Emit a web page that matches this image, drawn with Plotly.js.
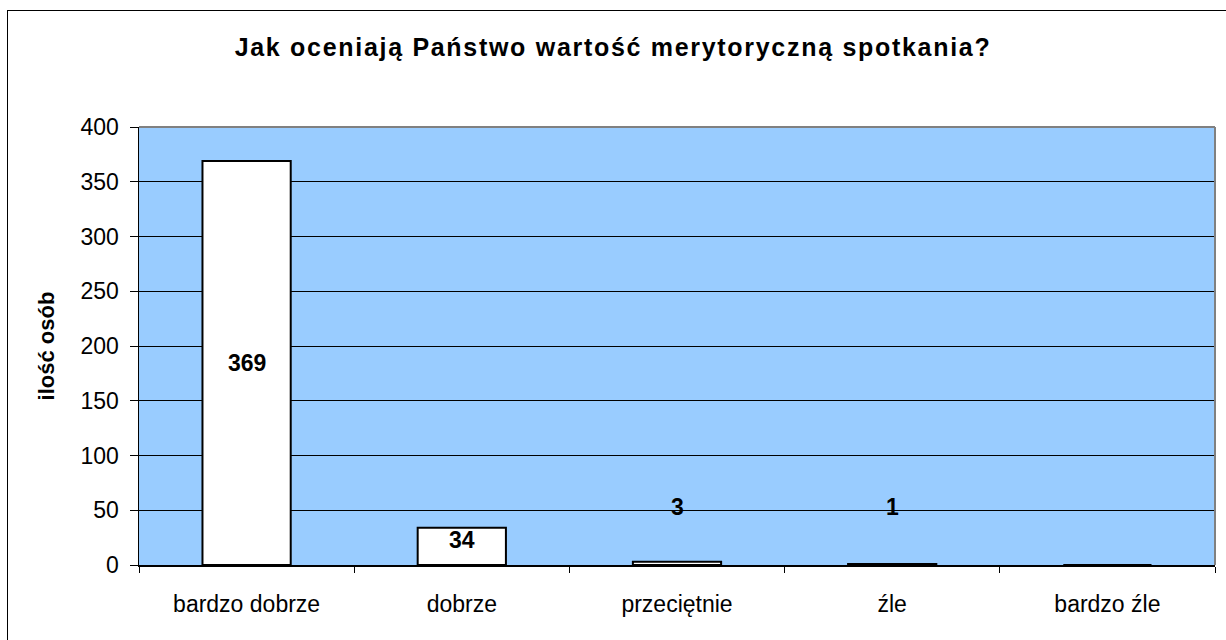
<!DOCTYPE html>
<html>
<head>
<meta charset="utf-8">
<script src="https://cdn.plot.ly/plotly-3.0.1.min.js"></script>
<style>
  html, body { margin: 0; padding: 0; background: #ffffff; overflow: hidden; }
  #frame { position: absolute; left: 7px; top: 10px; width: 1240px; height: 660px; border: 1.5px solid #000; box-sizing: border-box; pointer-events: none; z-index: 5; }
  #chart { position: absolute; left: 0; top: 0; width: 1226px; height: 640px; }
  #chart .gtitle { letter-spacing: 1.7px; }
</style>
</head>
<body>
<div id="chart"></div>
<div id="frame"></div>
<script>
const categories = ["bardzo dobrze", "dobrze", "przeciętnie", "źle", "bardzo źle"];
const counts = [369, 34, 3, 1, 0];
const yTicks = [0, 50, 100, 150, 200, 250, 300, 350, 400];
const chartTitle = "Jak oceniają Państwo wartość merytoryczną spotkania?";
const yTitle = "ilość osób";

const FONT = "Liberation Sans, Arial, sans-serif";

const annotations = [];
counts.forEach((v, i) => {
  if (v <= 0) return;
  let a = { x: categories[i], xref: "x", yref: "y", showarrow: false,
            text: "<b>" + v + "</b>", font: { family: FONT, size: 23, color: "#000" } };
  if (v > 100) { a.y = v / 2; a.yanchor = "middle"; }
  else if (v > 15) { a.y = v; a.yanchor = "top"; a.yshift = 3; }
  else { a.y = 0; a.yanchor = "middle"; a.yshift = 58; }
  annotations.push(a);
});

const trace = {
  type: "bar",
  x: categories,
  y: counts,
  marker: { color: "#ffffff", line: { color: "#000000", width: 2 } },
  hoverinfo: "x+y"
};

const layout = {
  width: 1226, height: 640,
  margin: { l: 139, r: 11, t: 127, b: 75 },
  paper_bgcolor: "#ffffff",
  plot_bgcolor: "#99ccff",
  bargap: 0.59,
  showlegend: false,
  title: { text: "<b>" + chartTitle + "</b>", font: { family: FONT, size: 25, color: "#000" },
           x: 0.5, xref: "container", xanchor: "center", y: 1 - 47/640, yref: "container", yanchor: "middle" },
  xaxis: {
    type: "category",
    tickson: "boundaries",
    ticks: "outside", ticklen: 6, tickcolor: "#000", tickwidth: 1,
    showline: true, linecolor: "#000", linewidth: 1.5,
    showgrid: false,
    tickfont: { family: FONT, size: 23, color: "#000" },
    ticklabelstandoff: 18,
    fixedrange: true
  },
  yaxis: {
    range: [0, 400],
    tickvals: yTicks,
    ticks: "outside", ticklen: 8, tickcolor: "#000", tickwidth: 1,
    showline: true, linecolor: "#000", linewidth: 1.5,
    showgrid: true, gridcolor: "#000", gridwidth: 1,
    zeroline: false,
    tickfont: { family: FONT, size: 23, color: "#000" },
    ticklabelstandoff: 6,
    title: { text: "<b>" + yTitle + "</b>", font: { family: FONT, size: 22, color: "#000" }, standoff: 20 },
    fixedrange: true
  },
  shapes: [
    { type: "line", xref: "paper", yref: "paper", x0: 0, x1: 1, y0: 1, y1: 1, line: { color: "#808080", width: 2 }, layer: "above" },
    { type: "line", xref: "paper", yref: "paper", x0: 1, x1: 1, y0: 0, y1: 1, line: { color: "#808080", width: 2 }, layer: "above" }
  ],
  annotations: annotations
};

Plotly.newPlot("chart", [trace], layout, { displayModeBar: false, staticPlot: true });
</script>
</body>
</html>
